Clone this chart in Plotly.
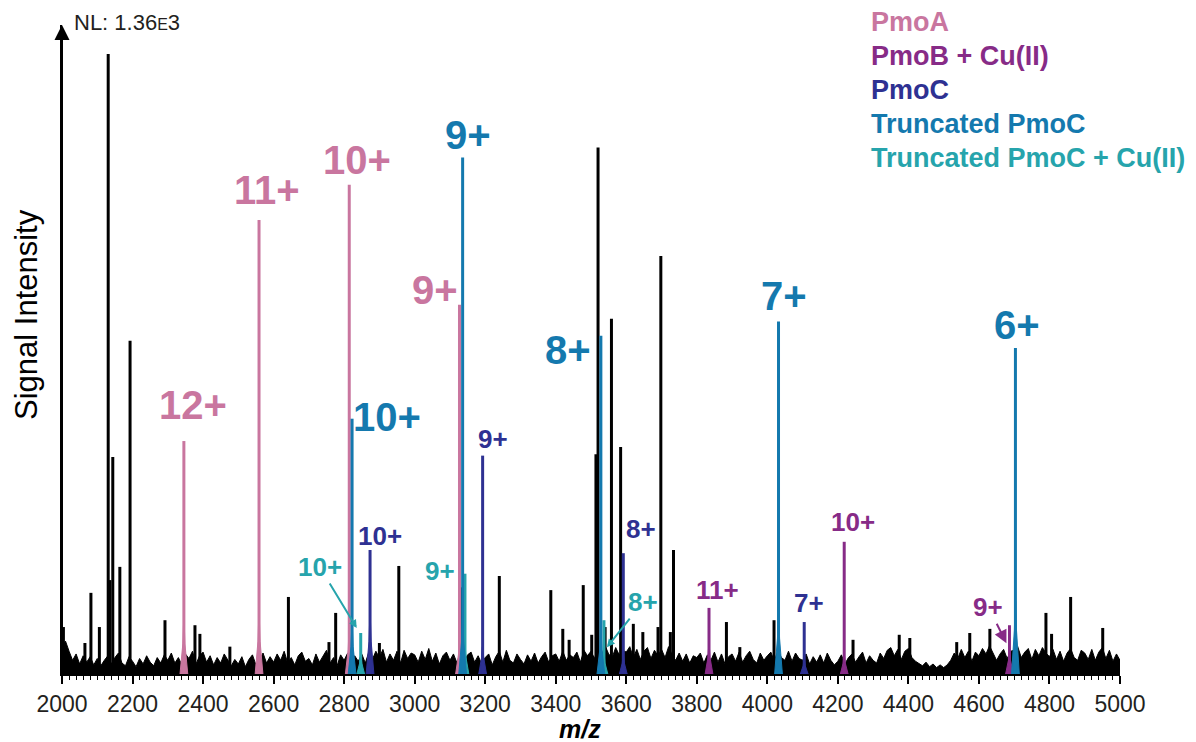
import plotly.graph_objects as go

# ---------------- data ----------------
NL_COUNTS = 1360  # normalisation level, tallest peak

# baseline noise, one value every 10 m/z from 2000 to 5000
noise_mz = list(range(2000, 5001, 10))
noise_counts = [
    60, 72, 50, 30, 44, 22, 40, 26, 38, 20,
    34, 18, 30, 40, 22, 36, 46, 24, 18, 38,
    28, 16, 34, 22, 40, 26, 18, 36, 24, 42,
    30, 46, 24, 36, 20, 44, 34, 50, 22, 40,
    48, 26, 40, 20, 36, 24, 44, 30, 18, 32,
    22, 38, 16, 32, 42, 20, 30, 46, 24, 38,
    26, 44, 30, 50, 24, 36, 20, 40, 48, 28,
    34, 20, 44, 26, 38, 52, 24, 36, 18, 42,
    30, 46, 22, 40, 28, 44, 24, 48, 32, 50,
    36, 54, 26, 44, 30, 50, 24, 52, 34, 46,
    42, 26, 50, 32, 56, 28, 46, 22, 40, 48,
    30, 44, 24, 50, 28, 42, 48, 26, 40, 22,
    36, 44, 20, 38, 50, 26, 52, 30, 24, 44,
    32, 22, 42, 28, 46, 24, 38, 48, 26, 40,
    44, 28, 50, 30, 42, 36, 48, 26, 52, 40,
    50, 34, 56, 40, 62, 44, 36, 58, 42, 52,
    48, 60, 36, 54, 32, 50, 58, 34, 52, 40,
    54, 36, 60, 42, 30, 46, 28, 44, 24, 40,
    36, 46, 24, 42, 30, 48, 26, 44, 22, 38,
    44, 28, 48, 26, 40, 50, 32, 24, 46, 30,
    40, 48, 28, 52, 36, 30, 50, 28, 46, 34,
    30, 44, 22, 38, 26, 42, 24, 46, 30, 20,
    28, 42, 22, 36, 44, 26, 38, 48, 24, 40,
    30, 24, 46, 34, 52, 58, 40, 54, 32, 50,
    56, 36, 28, 22, 18, 26, 16, 22, 14, 20,
    14, 20, 30, 46, 34, 54, 36, 50, 28, 48,
    40, 56, 44, 62, 46, 30, 44, 54, 34, 50,
    52, 60, 36, 48, 56, 32, 54, 40, 58, 46,
    38, 54, 32, 50, 28, 46, 56, 36, 30, 52,
    46, 32, 54, 30, 48, 58, 34, 52, 28, 44,
    30,
]

# unassigned (black) peaks
black_mz = [2004, 2065, 2082, 2106, 2131, 2136, 2144, 2164, 2193, 2292,
            2377, 2391, 2476, 2642, 2757, 2776, 2900, 2955, 3130, 3240,
            3386, 3420, 3438, 3478, 3502, 3514, 3520, 3540, 3558, 3584,
            3620, 3647, 3690, 3698, 3725, 3734, 3884, 3922, 4019, 4243,
            4374, 4404, 4537, 4574, 4631, 4790, 4806, 4860, 4951]
black_counts = [103, 68, 178, 103, 1360, 206, 476, 235, 731, 118,
                107, 88, 60, 169, 70, 134, 68, 237, 190, 215,
                184, 99, 75, 195, 86, 482, 1155, 103, 779, 498,
                110, 92, 103, 917, 92, 272, 114, 59, 118, 75,
                86, 79, 70, 90, 99, 134, 88, 169, 101]

# assigned charge states
pmoa_mz = [2345.6, 2558.7, 2814.5, 3127.1]
pmoa_counts = [511, 996, 1073, 810]
pmoa_base = [110, 120, 90, 70]
pmoa_z = ["12+", "11+", "10+", "9+"]

pmob_mz = [3834.6, 4218.0, 4686.6]
pmob_counts = [145, 290, 107]
pmob_base = [60, 40, 50]
pmob_z = ["11+", "10+", "9+"]

pmoc_mz = [2873.5, 3192.7, 3591.6, 4104.6]
pmoc_counts = [272, 479, 265, 114]
pmoc_base = [120, 60, 40, 30]
pmoc_z = ["10+", "9+", "8+", "7+"]

trunc_mz = [2822.5, 3136.0, 3528.0, 4031.7, 4703.5]
trunc_counts = [560, 1133, 742, 773, 715]
trunc_base = [100, 120, 90, 130, 160]
trunc_z = ["10+", "9+", "8+", "7+", "6+"]

trunccu_mz = [2847.0, 3142.6, 3536.7]
trunccu_counts = [90, 220, 118]
trunccu_base = [40, 60, 40]
trunccu_z = ["10+", "9+", "8+"]

series_names = ["PmoA", "PmoB + Cu(II)", "PmoC", "Truncated PmoC", "Truncated PmoC + Cu(II)"]

# ---------------- styling ----------------
C_PMOA = "#C9769F"
C_PMOB = "#872B87"
C_PMOC = "#2E3192"
C_TRUNC = "#1479AE"
C_TRUNCCU = "#26A4AC"
INK = "#231F20"
FONT = "Liberation Sans, Arial, sans-serif"

X0, X1 = 2000, 5000
YMAX = NL_COUNTS * 649 / 620.0

fig = go.Figure()

# noise
fig.add_trace(go.Scatter(x=noise_mz, y=noise_counts, mode="lines",
                         line=dict(color="black", width=1), fill="tozeroy",
                         fillcolor="black", hoverinfo="skip", showlegend=False))


def sticks(mz, counts):
    xs, ys = [], []
    for m, c in zip(mz, counts):
        xs += [m, m, None]
        ys += [0, c, None]
    return xs, ys


def envelopes(mz, base, half=11):
    xs, ys = [], []
    for m, b in zip(mz, base):
        xs += [m - half, m - 3, m - 1, m + 1, m + 3, m + half, m - half, None]
        ys += [0, b * 0.6, b, b, b * 0.6, 0, 0, None]
    return xs, ys


bx, by = sticks(black_mz, black_counts)
fig.add_trace(go.Scatter(x=bx, y=by, mode="lines", line=dict(color="black", width=3),
                         hoverinfo="skip", showlegend=False))

colored = [
    (pmoa_mz, pmoa_counts, pmoa_base, C_PMOA),
    (pmob_mz, pmob_counts, pmob_base, C_PMOB),
    (pmoc_mz, pmoc_counts, pmoc_base, C_PMOC),
    (trunccu_mz, trunccu_counts, trunccu_base, C_TRUNCCU),
    (trunc_mz, trunc_counts, trunc_base, C_TRUNC),
]
for mz, cnt, base, col in colored:
    ex, ey = envelopes(mz, base)
    fig.add_trace(go.Scatter(x=ex, y=ey, mode="lines", fill="toself", fillcolor=col,
                             line=dict(color=col, width=1), hoverinfo="skip", showlegend=False))
    sx, sy = sticks(mz, cnt)
    fig.add_trace(go.Scatter(x=sx, y=sy, mode="lines", line=dict(color=col, width=3),
                             hoverinfo="skip", showlegend=False))

annotations = []

BIG = 40
SMALL = 26


def label(mz, cnt, text, col, size, dx, dy):
    annotations.append(dict(x=mz, y=cnt, xref="x", yref="y", text="<b>%s</b>" % text,
                            showarrow=False, xshift=dx, yshift=dy, xanchor="center",
                            yanchor="middle", font=dict(family=FONT, size=size, color=col)))


def arrow_label(mz, cnt, text, col, size, dx, dy, ax, ay, asize):
    annotations.append(dict(x=mz, y=cnt, xref="x", yref="y", text="<b>%s</b>" % text,
                            showarrow=True, xshift=dx, yshift=dy, ax=ax, ay=ay,
                            arrowhead=2, arrowsize=asize, arrowwidth=2, arrowcolor=col,
                            font=dict(family=FONT, size=size, color=col)))


# PmoA labels
pmoa_shift = [(9, 36), (8, 30), (8, 25), (-24, 15)]
for m, c, t, (dx, dy) in zip(pmoa_mz, pmoa_counts, pmoa_z, pmoa_shift):
    label(m, c, t, C_PMOA, BIG, dx, dy)

# Truncated PmoC labels
trunc_shift = [(35, 2), (5, 22), (-33, -14), (5, 26), (2, 23)]
for m, c, t, (dx, dy) in zip(trunc_mz, trunc_counts, trunc_z, trunc_shift):
    label(m, c, t, C_TRUNC, BIG, dx, dy)

# PmoC labels
pmoc_shift = [(10, 14), (10, 17), (18, 24), (5, 19)]
for m, c, t, (dx, dy) in zip(pmoc_mz, pmoc_counts, pmoc_z, pmoc_shift):
    label(m, c, t, C_PMOC, SMALL, dx, dy)

# PmoB + Cu labels
label(pmob_mz[0], pmob_counts[0], pmob_z[0], C_PMOB, SMALL, 8, 18)
label(pmob_mz[1], pmob_counts[1], pmob_z[1], C_PMOB, SMALL, 9, 20)
arrow_label(pmob_mz[2], pmob_counts[2], pmob_z[2], C_PMOB, SMALL, -3, -18, -18, -36, 1.3)

# Truncated PmoC + Cu labels
arrow_label(trunccu_mz[0], trunccu_counts[0], trunccu_z[0], C_TRUNCCU, SMALL, -4, 5, -37, -61, 0.8)
label(trunccu_mz[1], trunccu_counts[1], trunccu_z[1], C_TRUNCCU, SMALL, -25, 3)
arrow_label(trunccu_mz[2], trunccu_counts[2], trunccu_z[2], C_TRUNCCU, SMALL, 3, -27, 36, -45, 0.8)

# legend as coloured text
legend_cols = [C_PMOA, C_PMOB, C_PMOC, C_TRUNC, C_TRUNCCU]
legend_y_px = [22, 56, 90, 124, 158]
for name, col, ypx in zip(series_names, legend_cols, legend_y_px):
    annotations.append(dict(x=(869 - 62) / 1058.0, y=(674 - ypx) / 649.0, xref="paper", yref="paper",
                            text="<b>%s</b>" % name, showarrow=False, xanchor="left", yanchor="middle",
                            font=dict(family=FONT, size=27, color=col)))

# y-axis arrow head
annotations.append(dict(x=X0, y=YMAX, ax=X0, ay=0, xref="x", yref="y", axref="x", ayref="y",
                        text="", showarrow=True, arrowhead=2, arrowsize=1.5, arrowwidth=2,
                        arrowcolor="black"))

# NL label
annotations.append(dict(x=(72 - 62) / 1058.0, y=(674 - 23) / 649.0, xref="paper", yref="paper",
                        text="NL: 1.36<span style='font-size:16px'>E</span>3", showarrow=False,
                        xanchor="left", yanchor="middle", font=dict(family=FONT, size=22, color=INK)))

# y title
annotations.append(dict(x=(26 - 62) / 1058.0, y=(674 - 315) / 649.0, xref="paper", yref="paper",
                        text="Signal Intensity", textangle=-90, showarrow=False,
                        xanchor="center", yanchor="middle", font=dict(family=FONT, size=31, color="black")))

# x title
annotations.append(dict(x=(580 - 62) / 1058.0, y=(674 - 729) / 649.0, xref="paper", yref="paper",
                        text="<b><i>m/z</i></b>", showarrow=False,
                        xanchor="center", yanchor="middle", font=dict(family=FONT, size=25, color="black")))

fig.update_layout(
    width=1196, height=742,
    margin=dict(l=62, r=76, t=25, b=68, autoexpand=False),
    plot_bgcolor="white", paper_bgcolor="white",
    showlegend=False,
    annotations=annotations,
    xaxis=dict(range=[X0, X1], showgrid=False, zeroline=False, showline=True, automargin=False,
               linecolor="black", linewidth=2, ticks="outside", ticklen=8, tickwidth=1.5,
               tickcolor="black", dtick=200, tick0=2000,
               minor=dict(dtick=20, ticks="outside", ticklen=4, tickwidth=1, tickcolor="black"),
               tickfont=dict(family=FONT, size=23, color=INK),
               ticklabelstandoff=0),
    yaxis=dict(range=[0, YMAX], showgrid=False, zeroline=False, showline=True, automargin=False,
               linecolor="black", linewidth=2, ticks="", showticklabels=False),
)

fig.write_html("out.html")
